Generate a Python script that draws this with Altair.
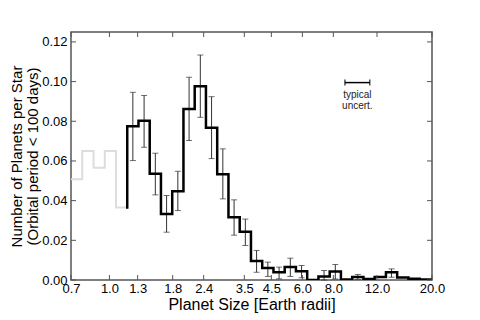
import altair as alt
import pandas as pd

# bin edges in Earth radii (log-spaced)
bin_edges = [0.700, 0.777, 0.863, 0.958, 1.063, 1.180, 1.310, 1.454, 1.614, 1.792,
             1.989, 2.208, 2.451, 2.721, 3.021, 3.354, 3.723, 4.133, 4.588, 5.093,
             5.653, 6.276, 6.967, 7.734, 8.585, 9.530, 10.58, 11.74, 13.04, 14.47,
             16.07, 17.83, 19.80, 20.0]

# grey (incomplete) part, first 5 bins
gray_vals = [0.0508, 0.0650, 0.0566, 0.0650, 0.0366]

# black histogram, remaining bins
black_vals = [0.0775, 0.0803, 0.0535, 0.0333, 0.0447, 0.0862, 0.0976, 0.0767,
              0.0533, 0.0316, 0.0243, 0.0096, 0.0061, 0.0039, 0.0065, 0.0044,
              0.0000, 0.0018, 0.0043, 0.0003, 0.0015, 0.0005, 0.0015, 0.0039,
              0.0012, 0.0006, 0.0002, 0.0000]
err_lo = [0.0602, 0.0669, 0.0429, 0.0241, 0.0350, 0.0703, 0.0820, 0.0612,
          0.0409, 0.0226, 0.0174, 0.0039, 0.0018, 0.0006, 0.0018, 0.0011,
          None, 0.0000, 0.0005, None, 0.0003, None, None, 0.0014,
          None, None, None, None]
err_hi = [0.0946, 0.0930, 0.0639, 0.0426, 0.0548, 0.1022, 0.1134, 0.0924,
          0.0661, 0.0404, 0.0307, 0.0149, 0.0090, 0.0065, 0.0110, 0.0073,
          None, 0.0048, 0.0078, None, 0.0028, None, None, 0.0056,
          None, None, None, None]

x_ticks = [0.7, 1.0, 1.3, 1.8, 2.4, 3.5, 4.5, 6.0, 8.0, 12.0, 20.0]
y_ticks = [0.00, 0.02, 0.04, 0.06, 0.08, 0.10, 0.12]

uncert_x = [8.91, 11.22]
uncert_y = 0.0995
note_lines = ["typical", "uncert."]
note_y = [0.0930, 0.0878]
note_x = 10.0

# ---- build tables ----
gray_edges = bin_edges[:6]
black_edges = bin_edges[5:]

g_rows = []
for i, v in enumerate(gray_vals):
    g_rows.append({"x": gray_edges[i], "y": v})
    g_rows.append({"x": gray_edges[i + 1], "y": v})
gray_df = pd.DataFrame(g_rows)
gray_df["i"] = range(len(gray_df))

b_rows = [{"x": black_edges[0], "y": gray_vals[-1]}]
for i, v in enumerate(black_vals):
    b_rows.append({"x": black_edges[i], "y": v})
    b_rows.append({"x": black_edges[i + 1], "y": v})
black_df = pd.DataFrame(b_rows)
black_df["i"] = range(len(black_df))

e_rows = []
for i in range(len(black_vals)):
    if err_lo[i] is None:
        continue
    xc = (black_edges[i] * black_edges[i + 1]) ** 0.5
    e_rows.append({"x": xc, "lo": err_lo[i], "hi": err_hi[i]})
err_df = pd.DataFrame(e_rows)

unc_df = pd.DataFrame({"x": [uncert_x[0]], "x2": [uncert_x[1]], "y": [uncert_y]})
unc_caps = pd.DataFrame({"x": uncert_x, "y": [uncert_y, uncert_y]})
note_df = pd.DataFrame({"x": [note_x] * 2, "y": note_y, "t": note_lines})
xt_df = pd.DataFrame({"x": x_ticks})
yt_df = pd.DataFrame({"y": y_ticks})

W, H = 361, 248
FONT = "Liberation Sans"
xscale = alt.Scale(type="log", domain=[0.7, 20])
yscale = alt.Scale(domain=[0, 0.125])
xaxis = alt.Axis(values=x_ticks, format=".1f", title="Planet Size [Earth radii]",
                 ticks=False, domain=False, grid=False, labelFlush=False,
                 labelOverlap=False, labelFontSize=13, titleFontSize=16,
                 labelPadding=2, titlePadding=1)
yaxis = alt.Axis(values=y_ticks, format=".2f",
                 title=["Number of Planets per Star", "(Orbital period < 100 days)"],
                 ticks=False, domain=False, grid=False, labelOverlap=False,
                 labelFontSize=13, titleFontSize=15, labelPadding=4,
                 titlePadding=1, titleLineHeight=16)

X = lambda f="x": alt.X(f"{f}:Q", scale=xscale, axis=xaxis)
Y = lambda f="y": alt.Y(f"{f}:Q", scale=yscale, axis=yaxis)

gray = alt.Chart(gray_df).mark_line(color="#dddddd", strokeWidth=2, clip=True).encode(
    x=X(), y=Y(), order="i:Q")

err_rule = alt.Chart(err_df).mark_rule(color="#333333", strokeWidth=1).encode(
    x=X(), y=Y("lo"), y2="hi:Q")
cap_lo = alt.Chart(err_df).mark_tick(color="#333333", orient="horizontal", size=6, thickness=1).encode(
    x=X(), y=Y("lo"))
cap_hi = alt.Chart(err_df).mark_tick(color="#333333", orient="horizontal", size=6, thickness=1).encode(
    x=X(), y=Y("hi"))

black = alt.Chart(black_df).mark_line(color="black", strokeWidth=2.5, clip=True,
                                      strokeJoin="miter", strokeCap="square").encode(
    x=X(), y=Y(), order="i:Q")

unc = alt.Chart(unc_df).mark_rule(color="black", strokeWidth=1.5).encode(
    x=X(), x2="x2:Q", y=Y())
unc_c = alt.Chart(unc_caps).mark_tick(color="black", orient="vertical", size=6, thickness=1.5).encode(
    x=X(), y=Y())
note = alt.Chart(note_df).mark_text(font=FONT, fontSize=10, color="#222222").encode(
    x=X(), y=Y(), text="t:N")

TC = "#555555"
xt_bot = alt.Chart(xt_df).mark_rule(color=TC, strokeWidth=1).encode(
    x=X(), y=alt.value(H), y2=alt.value(H - 5))
xt_top = alt.Chart(xt_df).mark_rule(color=TC, strokeWidth=1).encode(
    x=X(), y=alt.value(0), y2=alt.value(5))
yt_left = alt.Chart(yt_df).mark_rule(color=TC, strokeWidth=1).encode(
    y=Y(), x=alt.value(0), x2=alt.value(5))
yt_right = alt.Chart(yt_df).mark_rule(color=TC, strokeWidth=1).encode(
    y=Y(), x=alt.value(W - 5), x2=alt.value(W))

chart = alt.layer(
    gray, err_rule, cap_lo, cap_hi, black, unc, unc_c, note,
    xt_bot, xt_top, yt_left, yt_right
).properties(
    width=W, height=H,
    autosize=alt.AutoSizeParams(type="none"),
    padding={"left": 63, "top": 24, "right": 20, "bottom": 40},
).configure_view(
    stroke="#555555", strokeWidth=1.5
).configure_axis(
    labelFont=FONT, titleFont=FONT, labelColor="black", titleColor="black",
    titleFontWeight="normal"
)

chart.save("out.html", embed_options={"renderer": "svg", "actions": False})
